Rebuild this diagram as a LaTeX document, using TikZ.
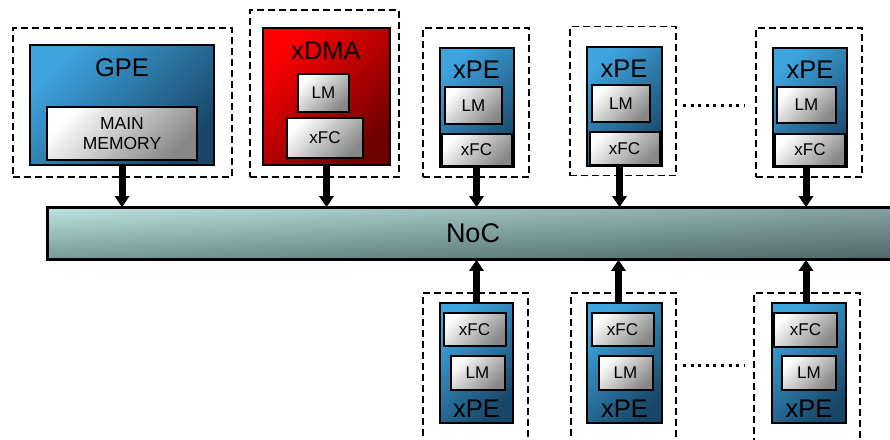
\documentclass[tikz,border=0pt]{standalone}
\usepackage{fontspec}
\setmainfont{Liberation Sans}
\usetikzlibrary{arrows.meta,fadings}

\definecolor{peblue}{RGB}{62,164,222}
\definecolor{pedark}{RGB}{24,70,104}
\definecolor{dmared}{RGB}{255,0,0}
\definecolor{dmadark}{RGB}{110,0,0}
\definecolor{noclight}{RGB}{188,226,226}
\definecolor{nocdark}{RGB}{100,134,134}
\definecolor{memgray}{RGB}{135,135,135}

\tikzset{
  wh/.style 2 args={minimum width=#1,minimum height=#2},
  tileframe/.style={draw,line width=1.6pt,dash pattern=on 7pt off 4pt,inner sep=0pt},
  pebox/.style={draw,line width=2pt,inner sep=0pt,top color=peblue,bottom color=pedark,shading angle=45},
  dmabox/.style={draw,line width=2pt,inner sep=0pt,top color=dmared,bottom color=dmadark,shading angle=45},
  membox/.style={draw,line width=2pt,inner sep=0pt,top color=white,bottom color=memgray,shading angle=45,
    font=\fontsize{17}{19}\selectfont},
  nocbox/.style={draw,line width=1.6pt,inner sep=0pt,top color=noclight,bottom color=nocdark,shading angle=1},
  title/.style={inner sep=0pt,font=\fontsize{25.5}{28}\selectfont},
  link/.style={line width=7pt,-{Triangle[width=14pt,length=11pt]}},
  moredots/.style={line width=3pt,dash pattern=on 3pt off 4.6pt}
}

\begin{document}
\begin{tikzpicture}[x=1pt,y=-1pt]
  \useasboundingbox (0,0) rectangle (890,439);

  % interconnect, darker towards the right end
  \node[nocbox,wh={848pt}{51pt},anchor=west] (noc) at (47,233.5) {};
  \fill[black,opacity=0.22,path fading=west] (noc.south west) rectangle (noc.north east);
  \draw[line width=1.6pt] (noc.south west) rectangle (noc.north east);
  \node[inner sep=0pt,font=\fontsize{27}{30}\selectfont] (nocname) at (473,233) {NoC};

  % host processor
  \node[tileframe,wh={219pt}{149pt}] (gpeframe) at (122.5,102.5) {};
  \node[pebox,wh={184pt}{120pt}] (gpe) at (122,105) {};
  \node[title] (gpename) at (122,68) {GPE};
  \node[membox,wh={150pt}{53pt},align=center,font=\fontsize{17.5}{20}\selectfont] (mainmem) at (122,133.5) {MAIN\\MEMORY};

  % dma engine
  \node[tileframe,wh={149pt}{167pt}] (dmaframe) at (324.5,93.5) {};
  \node[dmabox,wh={127pt}{137pt}] (dma) at (326.5,96.5) {};
  \node[title] (dmaname) at (326,51) {xDMA};
  \node[membox,wh={51pt}{38pt}] (dmalm) at (323.5,93) {LM};
  \node[membox,wh={76pt}{40pt}] (dmafc) at (325,138) {xFC};

  % upper row of PEs
  \node[tileframe,wh={106pt}{149pt}] (tpe1frame) at (476,102.5) {};
  \node[pebox,wh={74pt}{119pt}] (tpe1) at (476.5,107.5) {};
  \node[title] (tpe1name) at (476.5,70) {xPE};
  \node[membox,wh={57pt}{37pt}] (tpe1lm) at (473.5,105.5) {LM};
  \node[membox,wh={70pt}{32pt}] (tpe1fc) at (476.5,150) {xFC};

  \node[tileframe,wh={106pt}{149pt}] (tpe2frame) at (623,101) {};
  \node[pebox,wh={75pt}{119pt}] (tpe2) at (624.5,106.5) {};
  \node[title] (tpe2name) at (624,69) {xPE};
  \node[membox,wh={58pt}{37pt}] (tpe2lm) at (621,103.5) {LM};
  \node[membox,wh={70pt}{33pt}] (tpe2fc) at (624.5,148.5) {xFC};

  \node[tileframe,wh={106pt}{149pt}] (tpe3frame) at (809,102.5) {};
  \node[pebox,wh={74pt}{119pt}] (tpe3) at (810,107.5) {};
  \node[title] (tpe3name) at (810,70) {xPE};
  \node[membox,wh={59pt}{36pt}] (tpe3lm) at (806.5,105) {LM};
  \node[membox,wh={70pt}{32pt}] (tpe3fc) at (810,150) {xFC};

  \coordinate (tdots1) at (683,105);
  \coordinate (tdots2) at (744,105);
  \draw[moredots] (tdots1) -- (tdots2);

  % lower row of PEs
  \node[tileframe,wh={105pt}{160pt},anchor=north] (bpe1frame) at (475.5,292) {};
  \node[pebox,wh={73pt}{120pt}] (bpe1) at (476.5,363) {};
  \node[title] (bpe1name) at (476.5,409) {xPE};
  \node[membox,wh={62pt}{33pt}] (bpe1fc) at (474.5,329.5) {xFC};
  \node[membox,wh={54pt}{34pt}] (bpe1lm) at (477.5,373) {LM};

  \node[tileframe,wh={105pt}{160pt},anchor=north] (bpe2frame) at (623.5,292) {};
  \node[pebox,wh={75pt}{120pt}] (bpe2) at (624.5,363) {};
  \node[title] (bpe2name) at (624.5,409) {xPE};
  \node[membox,wh={62pt}{33pt}] (bpe2fc) at (622.5,329.5) {xFC};
  \node[membox,wh={54pt}{34pt}] (bpe2lm) at (625.5,373) {LM};

  \node[tileframe,wh={106pt}{160pt},anchor=north] (bpe3frame) at (807,292) {};
  \node[pebox,wh={74pt}{120pt}] (bpe3) at (809,363) {};
  \node[title] (bpe3name) at (809,409) {xPE};
  \node[membox,wh={63pt}{34pt}] (bpe3fc) at (805.5,329.5) {xFC};
  \node[membox,wh={54pt}{34pt}] (bpe3lm) at (809,373) {LM};

  \coordinate (bdots1) at (683,365);
  \coordinate (bdots2) at (744,365);
  \draw[moredots] (bdots1) -- (bdots2);

  % links into the NoC
  \draw[link] (gpe.south) -- (gpe.south |- noc.north);
  \draw[link] (dma.south) -- (dma.south |- noc.north);
  \draw[link] (tpe1.south) -- (tpe1.south |- noc.north);
  \draw[link] ([xshift=-5pt]tpe2.south) -- ([xshift=-5pt]tpe2.south |- noc.north);
  \draw[link] ([xshift=-4pt]tpe3.south) -- ([xshift=-4pt]tpe3.south |- noc.north);
  \draw[link] (bpe1.north) -- (bpe1.north |- noc.south);
  \draw[link] ([xshift=-6pt]bpe2.north) -- ([xshift=-6pt]bpe2.north |- noc.south);
  \draw[link] ([xshift=-3pt]bpe3.north) -- ([xshift=-3pt]bpe3.north |- noc.south);
\end{tikzpicture}
\end{document}
